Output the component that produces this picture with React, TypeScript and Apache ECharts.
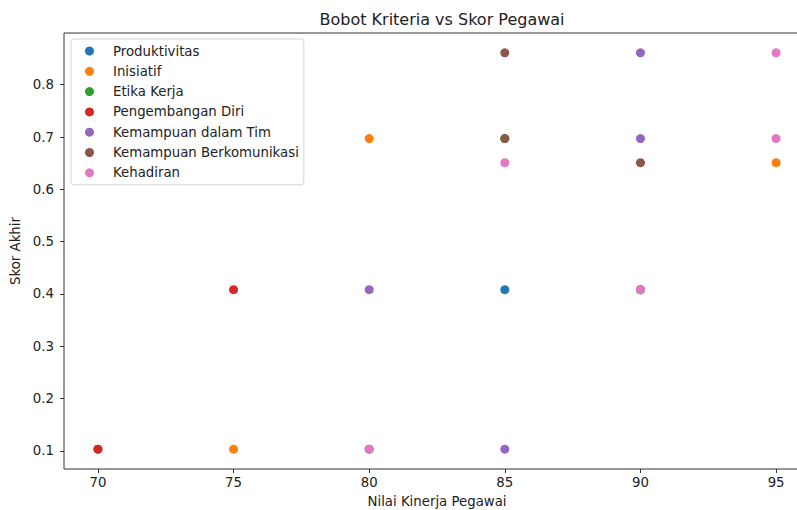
import React, { useEffect, useRef } from "react";
import * as echarts from "echarts";

const TITLE = "Bobot Kriteria vs Skor Pegawai";
const X_NAME = "Nilai Kinerja Pegawai";
const Y_NAME = "Skor Akhir";

const xTicks = [70, 75, 80, 85, 90, 95];
const yTicks = [0.1, 0.2, 0.3, 0.4, 0.5, 0.6, 0.7, 0.8];

const criteria = [
  "Produktivitas",
  "Inisiatif",
  "Etika Kerja",
  "Pengembangan Diri",
  "Kemampuan dalam Tim",
  "Kemampuan Berkomunikasi",
  "Kehadiran",
];
const colors = ["#1f77b4", "#ff7f0e", "#2ca02c", "#d62728", "#9467bd", "#8c564b", "#e377c2"];

// [Nilai Kinerja, Skor Akhir]
const produktivitas = [[85, 0.408], [90, 0.408], [80, 0.103]];
const inisiatif = [[75, 0.103], [80, 0.697], [95, 0.651]];
const etikaKerja = [[70, 0.103], [85, 0.697], [90, 0.408]];
const pengembanganDiri = [[70, 0.103], [75, 0.408]];
const kemampuanTim = [[80, 0.408], [85, 0.103], [90, 0.861], [90, 0.697]];
const kemampuanKomunikasi = [[85, 0.861], [85, 0.697], [90, 0.651]];
const kehadiran = [[80, 0.103], [85, 0.651], [90, 0.408], [95, 0.861], [95, 0.697]];

const seriesData = [produktivitas, inisiatif, etikaKerja, pengembanganDiri, kemampuanTim, kemampuanKomunikasi, kehadiran];

const FONT = "DejaVu Sans";

export default function App() {
  const ref = useRef<HTMLDivElement>(null);
  useEffect(() => {
    if (!ref.current) return;
    const chart = echarts.init(ref.current, null, { renderer: "svg" });
    const allY = seriesData.flat().map((p) => p[1]);
    const allX = seriesData.flat().map((p) => p[0]);
    const yMin = Math.min(...allY), yMax = Math.max(...allY);
    const xMin = Math.min(...allX), xMax = Math.max(...allX);
    const ym = (yMax - yMin) * 0.05, xm = (xMax - xMin) * 0.05;
    chart.setOption({
      animation: false,
      backgroundColor: "#ffffff",
      color: colors,
      title: {
        text: TITLE,
        left: 437,
        textAlign: "center",
        top: 6,
        textStyle: { fontFamily: FONT, fontSize: 16, fontWeight: "normal", color: "#222" },
      },
      grid: {
        left: 64,
        top: 33,
        width: 746,
        height: 436,
        outerBoundsMode: "none",
        containLabel: false,
        show: true,
        borderColor: "#333",
        borderWidth: 1,
        backgroundColor: "transparent",
      },
      legend: {
        orient: "vertical",
        left: 71,
        top: 39,
        data: criteria,
        icon: "circle",
        itemWidth: 9,
        itemHeight: 9,
        itemGap: 6.3,
        padding: [5, 5, 5, 14],
        borderColor: "#d4d4d4",
        borderWidth: 1,
        borderRadius: 3,
        backgroundColor: "rgba(255,255,255,0.85)",
        textStyle: { fontFamily: FONT, fontSize: 13.3, color: "#222", lineHeight: 14, padding: [0, 0, 0, 14] },
      },
      xAxis: {
        type: "value",
        min: xMin - xm,
        max: xMax + xm,
        name: X_NAME,
        nameLocation: "middle",
        nameGap: 26,
        nameTextStyle: { fontFamily: FONT, fontSize: 13.3, color: "#222" },
        axisLine: { show: false },
        axisTick: { show: true, length: 4, inside: false, customValues: xTicks, lineStyle: { color: "#333" } },
        axisLabel: { customValues: xTicks, margin: 7, fontFamily: FONT, fontSize: 13.3, color: "#222" },
        splitLine: { show: false },
      },
      yAxis: {
        type: "value",
        min: yMin - ym,
        max: yMax + ym,
        name: Y_NAME,
        nameLocation: "middle",
        nameGap: 33,
        nameTextStyle: { fontFamily: FONT, fontSize: 13.3, color: "#222" },
        axisLine: { show: false },
        axisTick: { show: true, length: 4, inside: false, customValues: yTicks, lineStyle: { color: "#333" } },
        axisLabel: {
          customValues: yTicks,
          margin: 10,
          fontFamily: FONT,
          fontSize: 13.3,
          color: "#222",
          formatter: (v: number) => v.toFixed(1),
        },
        splitLine: { show: false },
      },
      series: criteria.map((name, i) => ({
        name,
        type: "scatter",
        data: seriesData[i],
        symbol: "circle",
        symbolSize: 9,
        itemStyle: { color: colors[i], opacity: 1 },
        z: 2 + i,
      })),
    });
    return () => chart.dispose();
  }, []);
  return <div ref={ref} style={{ width: 797, height: 510, position: "absolute", left: 0, top: 0 }} />;
}
